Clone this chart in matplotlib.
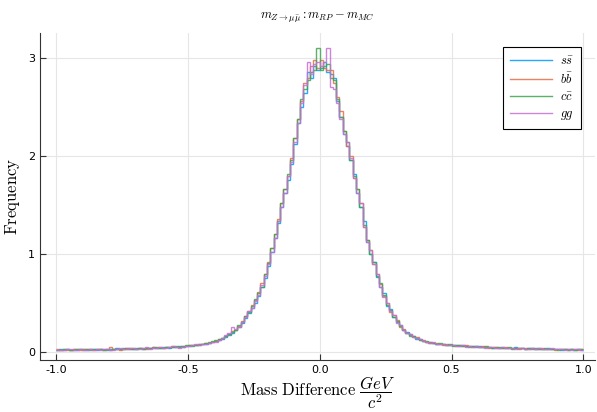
import numpy as np
import matplotlib
matplotlib.use("Agg")
import matplotlib.pyplot as plt

plt.rcParams['mathtext.fontset'] = 'cm'
plt.rcParams['font.family'] = ['DejaVu Sans']

# histogram bins: 160 bins from -1 to 1
bin_lo, bin_hi, n_bins = -1.0, 1.0, 160

labels = [r'$s\bar{s}$', r'$b\bar{b}$', r'$c\bar{c}$', r'$gg$']
colors = ['#009AFA', '#E36F47', '#3EA44E', '#C371D2']

# density per bin (left tail, left core, right core, right tail)
ss = [0.02, 0.03, 0.02, 0.03, 0.02, 0.03, 0.02, 0.03, 0.03, 0.02, 0.03, 0.03, 0.02, 0.03, 0.03, 0.02, 0.03, 0.03, 0.04, 0.03,
      0.03, 0.04, 0.03, 0.03, 0.04, 0.04, 0.03, 0.04, 0.04, 0.05, 0.04, 0.04, 0.05, 0.05, 0.04, 0.05, 0.05, 0.06, 0.05, 0.06,
      0.06, 0.07, 0.07, 0.08, 0.08, 0.08, 0.09, 0.10, 0.11, 0.12, 0.13, 0.15, 0.17, 0.19, 0.22, 0.26, 0.30, 0.35, 0.40, 0.45,
      0.50, 0.57, 0.66, 0.76, 0.88, 1.02, 1.16, 1.32, 1.48, 1.62, 1.76, 1.92, 2.12, 2.34, 2.50, 2.64, 2.86, 2.80, 2.92, 2.88,
      2.90, 2.96, 2.86, 2.84, 2.80, 2.56, 2.40, 2.22, 2.10, 1.96, 1.82, 1.62, 1.48, 1.34, 1.12, 1.00, 0.92, 0.77, 0.66, 0.60,
      0.47, 0.44, 0.36, 0.31, 0.28, 0.22, 0.20, 0.17, 0.16, 0.13, 0.13, 0.11, 0.10, 0.10, 0.09, 0.08, 0.08, 0.08, 0.07, 0.07,
      0.07, 0.07, 0.06, 0.07, 0.06, 0.06, 0.06, 0.05, 0.06, 0.05, 0.05, 0.05, 0.04, 0.05, 0.04, 0.05, 0.04, 0.04, 0.04, 0.05,
      0.04, 0.04, 0.03, 0.04, 0.04, 0.03, 0.04, 0.03, 0.03, 0.04, 0.03, 0.03, 0.03, 0.02, 0.03, 0.03, 0.03, 0.02, 0.03, 0.02]
bb = [0.03, 0.02, 0.03, 0.02, 0.02, 0.03, 0.03, 0.02, 0.03, 0.03, 0.03, 0.02, 0.03, 0.03, 0.02, 0.03, 0.05, 0.03, 0.03, 0.02,
      0.03, 0.04, 0.03, 0.04, 0.03, 0.04, 0.04, 0.03, 0.04, 0.05, 0.04, 0.05, 0.04, 0.05, 0.05, 0.06, 0.05, 0.05, 0.06, 0.06,
      0.07, 0.07, 0.07, 0.08, 0.08, 0.09, 0.09, 0.10, 0.11, 0.13, 0.14, 0.16, 0.18, 0.21, 0.23, 0.27, 0.32, 0.37, 0.42, 0.48,
      0.53, 0.61, 0.70, 0.80, 0.92, 1.06, 1.20, 1.36, 1.52, 1.66, 1.80, 1.98, 2.18, 2.38, 2.56, 2.74, 2.80, 2.92, 2.98, 2.90,
      2.98, 2.90, 2.88, 2.88, 2.74, 2.60, 2.46, 2.26, 2.10, 2.00, 1.78, 1.66, 1.52, 1.28, 1.14, 1.04, 0.90, 0.80, 0.69, 0.57,
      0.50, 0.41, 0.38, 0.33, 0.26, 0.24, 0.19, 0.18, 0.15, 0.15, 0.12, 0.12, 0.10, 0.10, 0.09, 0.09, 0.08, 0.07, 0.08, 0.07,
      0.07, 0.06, 0.07, 0.06, 0.07, 0.06, 0.05, 0.06, 0.05, 0.06, 0.05, 0.04, 0.05, 0.05, 0.04, 0.04, 0.05, 0.04, 0.04, 0.04,
      0.03, 0.04, 0.04, 0.03, 0.04, 0.03, 0.03, 0.04, 0.03, 0.03, 0.03, 0.02, 0.03, 0.03, 0.03, 0.02, 0.03, 0.03, 0.02, 0.03]
cc = [0.02, 0.02, 0.03, 0.03, 0.02, 0.02, 0.03, 0.03, 0.02, 0.03, 0.02, 0.03, 0.03, 0.03, 0.02, 0.03, 0.02, 0.03, 0.03, 0.03,
      0.04, 0.03, 0.04, 0.03, 0.03, 0.04, 0.03, 0.04, 0.04, 0.04, 0.05, 0.04, 0.04, 0.05, 0.05, 0.05, 0.06, 0.05, 0.06, 0.07,
      0.07, 0.06, 0.07, 0.07, 0.08, 0.09, 0.10, 0.11, 0.12, 0.13, 0.14, 0.16, 0.18, 0.20, 0.23, 0.28, 0.31, 0.37, 0.41, 0.47,
      0.54, 0.60, 0.66, 0.80, 0.91, 1.06, 1.20, 1.34, 1.52, 1.66, 1.82, 1.96, 2.18, 2.38, 2.58, 2.68, 2.78, 2.86, 2.88, 3.10,
      2.88, 2.92, 2.94, 2.80, 2.78, 2.58, 2.40, 2.26, 2.14, 1.96, 1.80, 1.66, 1.48, 1.30, 1.14, 1.00, 0.92, 0.78, 0.70, 0.58,
      0.48, 0.43, 0.36, 0.32, 0.27, 0.23, 0.19, 0.16, 0.16, 0.14, 0.12, 0.11, 0.11, 0.09, 0.09, 0.08, 0.09, 0.08, 0.07, 0.08,
      0.06, 0.07, 0.07, 0.06, 0.06, 0.05, 0.06, 0.06, 0.05, 0.05, 0.06, 0.05, 0.04, 0.04, 0.05, 0.04, 0.04, 0.05, 0.03, 0.04,
      0.04, 0.04, 0.03, 0.04, 0.03, 0.04, 0.03, 0.03, 0.04, 0.03, 0.03, 0.03, 0.02, 0.03, 0.03, 0.02, 0.03, 0.02, 0.03, 0.03]
gg = [0.02, 0.02, 0.02, 0.03, 0.03, 0.02, 0.02, 0.03, 0.02, 0.02, 0.03, 0.02, 0.03, 0.02, 0.03, 0.03, 0.02, 0.02, 0.03, 0.04,
      0.03, 0.03, 0.04, 0.04, 0.03, 0.03, 0.04, 0.05, 0.03, 0.04, 0.04, 0.05, 0.04, 0.04, 0.05, 0.06, 0.05, 0.04, 0.05, 0.06,
      0.06, 0.07, 0.08, 0.07, 0.08, 0.08, 0.09, 0.10, 0.10, 0.12, 0.14, 0.17, 0.19, 0.26, 0.24, 0.26, 0.31, 0.36, 0.42, 0.45,
      0.52, 0.58, 0.68, 0.78, 0.90, 1.02, 1.16, 1.34, 1.48, 1.62, 1.80, 1.94, 2.14, 2.34, 2.54, 2.72, 2.96, 2.84, 2.94, 2.96,
      2.92, 2.96, 3.10, 2.70, 2.68, 2.54, 2.38, 2.22, 2.14, 1.98, 1.78, 1.62, 1.52, 1.28, 1.12, 1.04, 0.90, 0.80, 0.66, 0.56,
      0.50, 0.42, 0.38, 0.30, 0.28, 0.22, 0.19, 0.18, 0.15, 0.14, 0.13, 0.11, 0.10, 0.09, 0.10, 0.08, 0.08, 0.08, 0.07, 0.07,
      0.07, 0.06, 0.06, 0.07, 0.05, 0.06, 0.05, 0.06, 0.05, 0.05, 0.04, 0.05, 0.05, 0.04, 0.04, 0.05, 0.04, 0.04, 0.04, 0.03,
      0.04, 0.04, 0.03, 0.03, 0.04, 0.03, 0.04, 0.03, 0.03, 0.03, 0.04, 0.03, 0.03, 0.03, 0.02, 0.03, 0.02, 0.03, 0.03, 0.02]

xticks = [-1.0, -0.5, 0.0, 0.5, 1.0]
yticks = [0, 1, 2, 3]

edges = np.linspace(bin_lo, bin_hi, n_bins + 1)

fig = plt.figure(figsize=(5.97, 4.12), dpi=100)
ax = fig.add_axes([0.067, 0.126, 0.930, 0.794])

for vals, lab, col in zip([ss, bb, cc, gg], labels, colors):
    assert len(vals) == n_bins
    ax.stairs(vals, edges, baseline=None, color=col, lw=1.0, alpha=0.85, label=lab)

ax.set_xlim(-1.061, 1.045)
ax.set_ylim(-0.082, 3.255)
ax.set_xticks(xticks)
ax.set_xticklabels([f'{t:.1f}' for t in xticks])
ax.set_yticks(yticks)
ax.grid(True, color='#e6e6e6', lw=0.8)
ax.set_axisbelow(True)
for s in ['top', 'right']:
    ax.spines[s].set_visible(False)
for s in ['left', 'bottom']:
    ax.spines[s].set_color('#333333')
ax.tick_params(direction='in', length=4, width=0.8, labelsize=8, color='#333333')

ax.set_title(r'$m_{Z\to\mu\bar{\mu}}: m_{RP} - m_{MC}$', fontsize=9, pad=10)
ax.set_xlabel(r'$\mathrm{Mass\ Difference}\ \dfrac{GeV}{c^2}$', fontsize=12, labelpad=-1)
ax.set_ylabel(r'$\mathrm{Frequency}$', fontsize=12, labelpad=4)

leg = ax.legend(loc='upper right', fontsize=9, fancybox=False, framealpha=1,
                edgecolor='black', handlelength=3.4, borderpad=0.55, labelspacing=0.32,
                handletextpad=0.6, bbox_to_anchor=(0.985, 0.975))
leg.get_frame().set_linewidth(0.8)

fig.savefig('out.png', dpi=100)
